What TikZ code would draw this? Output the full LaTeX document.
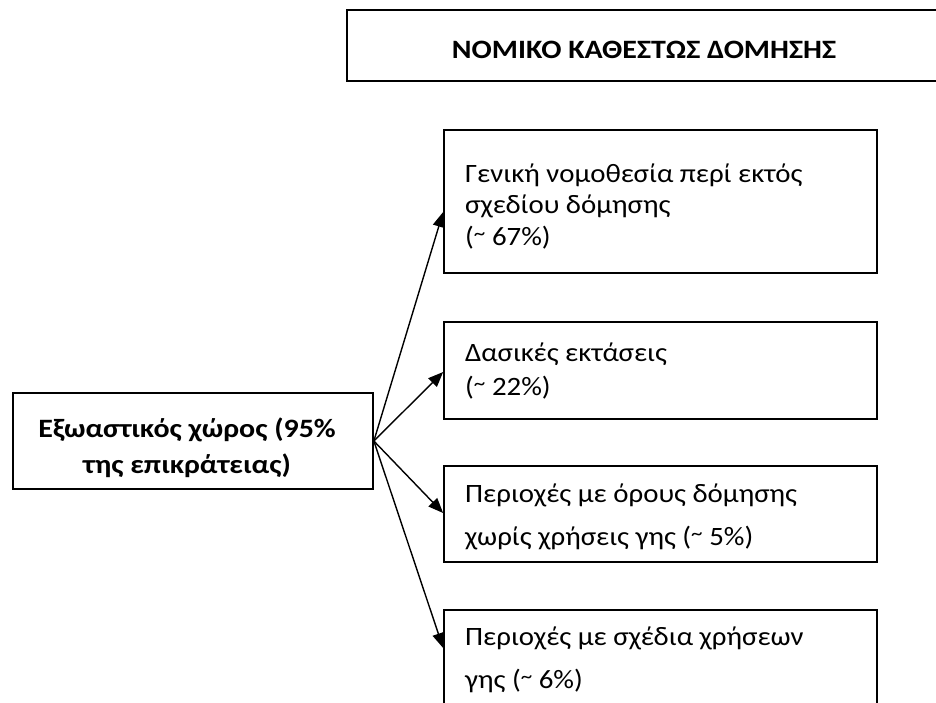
\documentclass[tikz,border=0pt]{standalone}
\usepackage{fontspec}
\usepackage{graphicx}
\setmainfont{Carlito}[FakeStretch=1.09, BoldFeatures={FakeStretch=1.13}]
\usetikzlibrary{arrows.meta}
\newcommand{\tld}{\raisebox{5pt}{\scalebox{0.8}{\textasciitilde}}}
\begin{document}
\begin{tikzpicture}[x=1pt,y=-1pt,
  box/.style={draw, line width=1.7pt, inner sep=0pt, rectangle},
  txt/.style={inner sep=0pt, anchor=base west, font=\fontsize{26.5}{32}\selectfont},
  btxt/.style={inner sep=0pt, anchor=base, font=\bfseries\fontsize{26.5}{32}\selectfont},
  conn/.style={line width=1.4pt, -{Triangle[length=15pt,width=12pt]}}]
\useasboundingbox (0,0) rectangle (936,702);
\clip (0,0) rectangle (936,702);
% boxes
\node[box, minimum width=594, minimum height=71] (T) at (644,45.5) {};
\node[box, minimum width=360, minimum height=96] (L) at (193,441) {};
\node[box, minimum width=433, minimum height=143] (B1) at (660.5,201.5) {};
\node[box, minimum width=433, minimum height=97] (B2) at (660.5,370.5) {};
\node[box, minimum width=433, minimum height=96] (B3) at (660.5,514) {};
\node[box, minimum width=433, minimum height=120] (B4) at (660.5,670) {};
% texts
\node[btxt] (Tt) at (644,58) {ΝΟΜΙΚΟ ΚΑΘΕΣΤΩΣ ΔΟΜΗΣΗΣ};
\node[btxt] (La) at (187,437) {Εξωαστικός χώρος (95\%};
\node[btxt] (Lb) at (187,473) {της επικράτειας)};
\node[txt] (B1a) at (465,182) {Γενική νομοθεσία περί εκτός};
\node[txt] (B1b) at (465,213) {σχεδίου δόμησης};
\node[txt] (B1c) at (465,245) {(\tld{} 67\%)};
\node[txt] (B2a) at (465,361) {Δασικές εκτάσεις};
\node[txt] (B2b) at (465,395) {(\tld{} 22\%)};
\node[txt] (B3a) at (465,502) {Περιοχές με όρους δόμησης};
\node[txt] (B3b) at (465,545) {χωρίς χρήσεις γης (\tld{} 5\%)};
\node[txt] (B4a) at (465,645) {Περιοχές με σχέδια χρήσεων};
\node[txt] (B4b) at (465,688) {γης (\tld{} 6\%)};
% connectors
\coordinate (S) at (L.east);
\draw[conn] (S) -- ([yshift=-10.5pt]B1.west);
\draw[conn] (S) -- ([yshift=-1.5pt]B2.west);
\draw[conn] (S) -- ([yshift=1pt]B3.west);
\draw[conn] (S) -- ([yshift=22pt]B4.west);
\end{tikzpicture}
\end{document}
